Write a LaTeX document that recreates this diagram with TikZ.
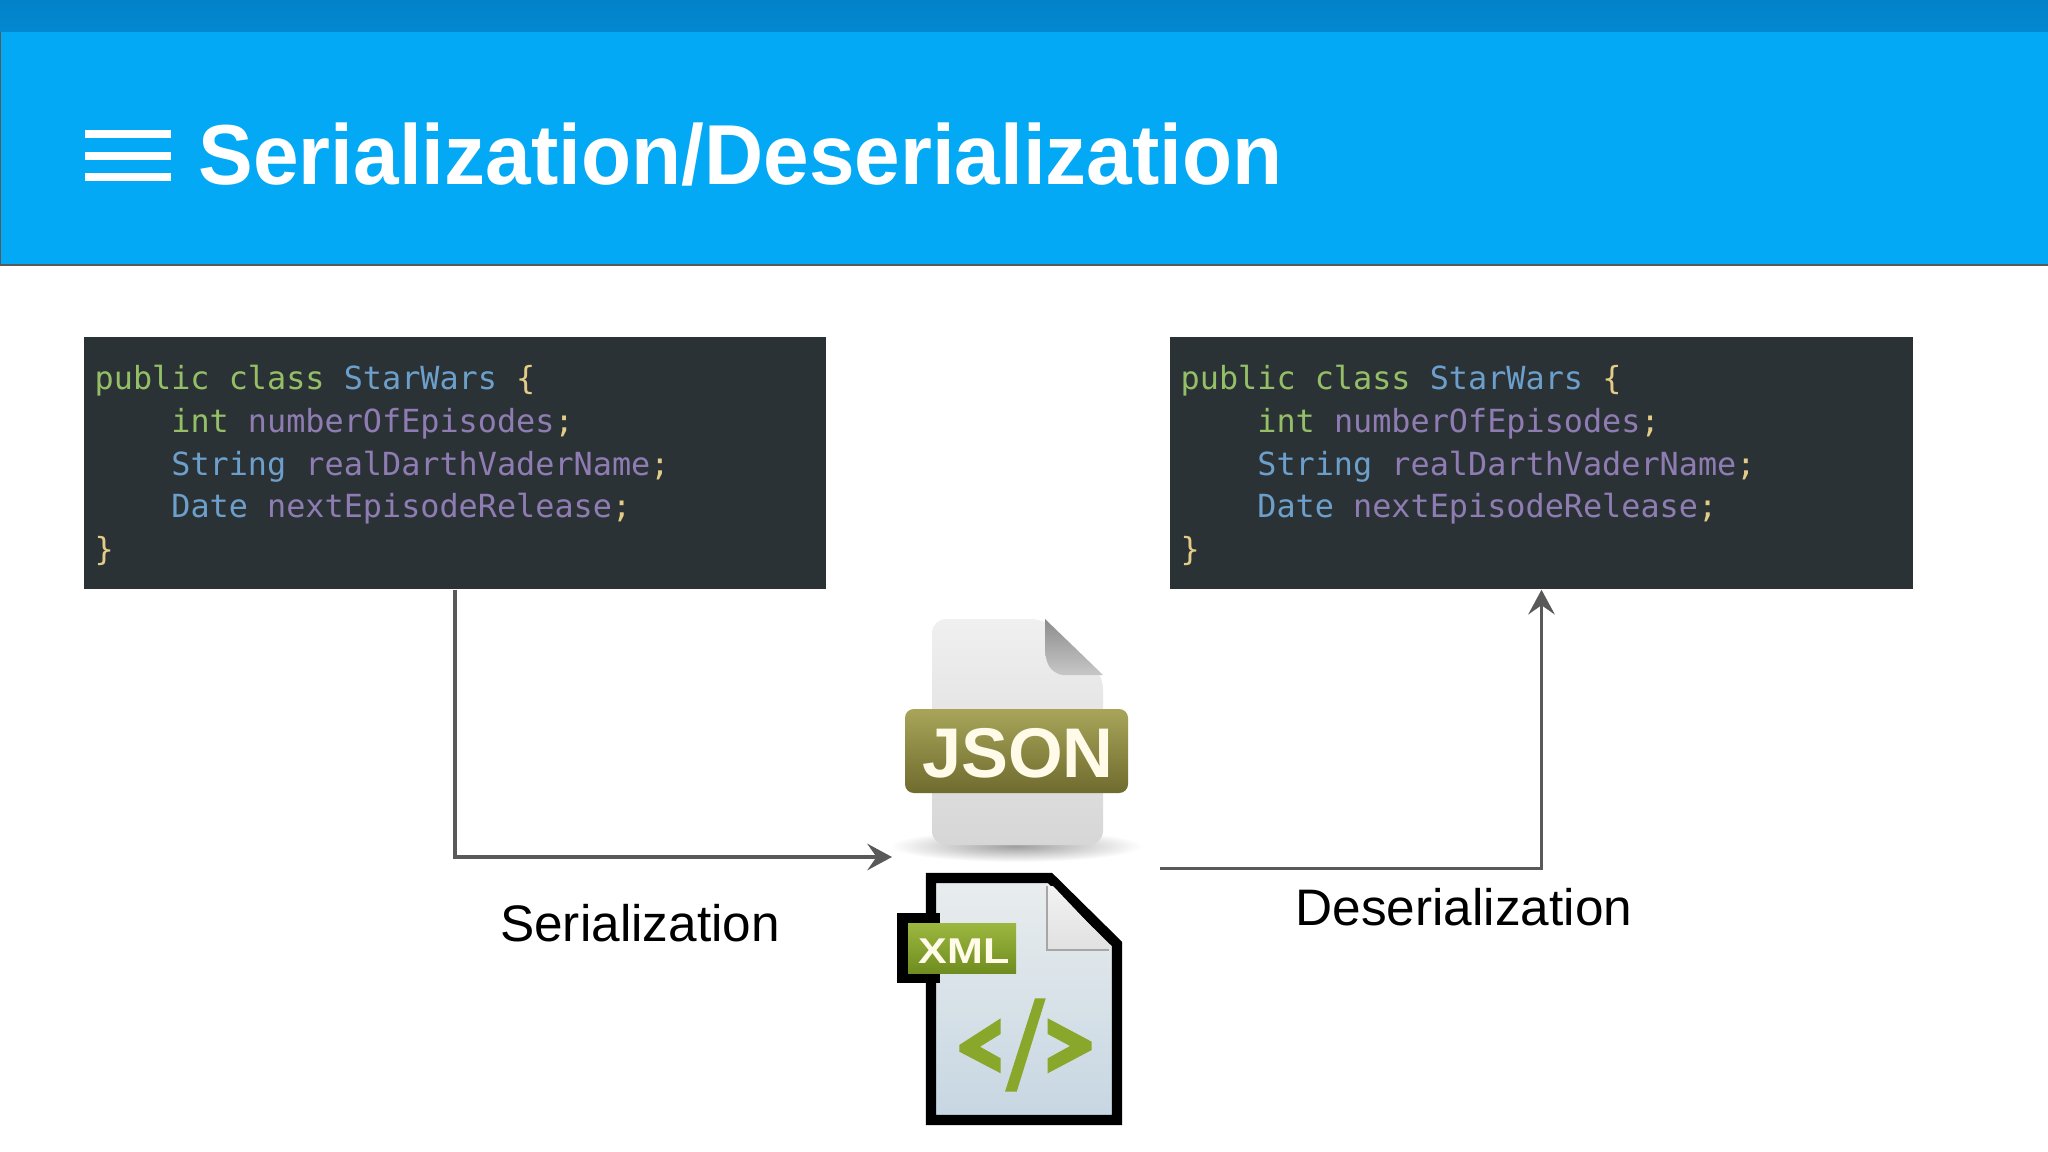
\documentclass[tikz,border=0pt]{standalone}
\usepackage{fontspec}
\setmainfont{Liberation Sans}
\setmonofont{DejaVu Sans Mono}
\newfontfamily\titlefont[FakeStretch=0.963]{Liberation Sans Bold}
\newfontfamily\xmlfont[FakeStretch=1.2]{Liberation Sans Bold}
\usetikzlibrary{arrows.meta}

\definecolor{barblue}{HTML}{0288D1}
\definecolor{headblue}{HTML}{03A9F4}
\definecolor{edgegrey}{HTML}{595959}
\definecolor{codebg}{HTML}{2B3235}
\definecolor{kwgreen}{HTML}{94BF66}
\definecolor{typeblue}{HTML}{6C9FCB}
\definecolor{varpurple}{HTML}{8F7CB3}
\definecolor{punctyellow}{HTML}{E3CC87}
\definecolor{xmlgreen}{HTML}{89A72B}
\definecolor{xmltop}{HTML}{9DB83F}
\definecolor{xmlbottom}{HTML}{6F8C20}
\definecolor{jsontop}{HTML}{A8A55A}
\definecolor{jsonbottom}{HTML}{6E6B2E}
\definecolor{creamword}{HTML}{FFFBE8}
\definecolor{pagetop}{HTML}{E9EDEE}
\definecolor{pagebottom}{HTML}{C6D6E2}

\newcommand{\kw}[1]{\textcolor{kwgreen}{#1}}
\newcommand{\tp}[1]{\textcolor{typeblue}{#1}}
\newcommand{\vr}[1]{\textcolor{varpurple}{#1}}
\newcommand{\pn}[1]{\textcolor{punctyellow}{#1}}
\newcommand{\starwarscode}{\kw{public class} \tp{StarWars} \pn{\{}\\
\phantom{xxxx}\kw{int} \vr{numberOfEpisodes}\pn{;}\\
\phantom{xxxx}\tp{String} \vr{realDarthVaderName}\pn{;}\\
\phantom{xxxx}\tp{Date} \vr{nextEpisodeRelease}\pn{;}\\
\pn{\}}}

\tikzset{
  codebox/.style={fill=codebg,minimum width=742*0.2845pt,minimum height=252*0.2845pt,inner sep=0pt},
  codetext/.style={anchor=north west,inner sep=0pt,align=left,font=\ttfamily\fontsize{9.05}{12.15}\selectfont},
  flowline/.style={draw=edgegrey,line width=1.1pt,-{Stealth[length=7pt,width=7.5pt,inset=2.6pt]}},
  flowlabel/.style={anchor=base,inner sep=0pt,font=\fontsize{14.6}{16}\selectfont},
  iconword/.style={anchor=base,inner sep=0pt,text=creamword},
  menubar/.style={fill=white,minimum width=86*0.2845pt,minimum height=8.5*0.2845pt,inner sep=0pt}
}

\begin{document}
\begin{tikzpicture}[x=0.01cm,y=-0.01cm]
  \useasboundingbox (0,0) rectangle (2048,1152);
  \fill[white] (0,0) rectangle (2048,1152);
  \fill[headblue] (0,32) rectangle (2048,265);
  \shade[top color=barblue!96!black,bottom color=barblue] (0,0) rectangle (2048,32);
  \draw[edgegrey,line width=0.4pt] (0.5,32)--(0.5,265)--(2048,265);
  \node[menubar](menu1) at (128,134){};
  \node[menubar](menu2) at (128,156){};
  \node[menubar](menu3) at (128,177){};
  \node[anchor=base west,inner sep=0pt,text=white,font=\titlefont\fontsize{24.2}{26}\selectfont](title) at (198,185){Serialization/Deserialization};

  \node[codebox](source) at (455,463){};
  \node[codebox](target) at (1541.5,463){};
  \node[codetext](sourcecode) at (94,364.5){\starwarscode};
  \node[codetext](targetcode) at (1180,364.5){\starwarscode};

  \shade[inner color=black!38,outer color=white] (1016,846) ellipse (126 and 16);
  \shade[top color=black!6,middle color=black!5,bottom color=black!16,rounded corners=4pt] (932,619)--(1045,619)--(1103,675)--(1103,845)--(932,845)--cycle;
  \shade[top color=black!45,bottom color=black!22] (1045,619)--(1103,675)--(1062,675)..controls (1050,672) and (1046,664)..(1045,650)--cycle;
  \shade[top color=jsontop,bottom color=jsonbottom,rounded corners=2.5pt] (905,709) rectangle (1128,793);
  \node[iconword,font=\bfseries\fontsize{20}{22}\selectfont](jsonword) at (1018,777){JSON};
  \coordinate(jsonin) at (892,857);
  \coordinate(jsonout) at (1160,868.5);

  \shade[top color=pagetop,bottom color=pagebottom,draw=black,line width=2.9pt,line join=miter] (931,878)--(1050,878)--(1117,944)--(1117,1120)--(931,1120)--cycle;
  \shade[top color=black!5,bottom color=black!12] (1047,886)--(1053,886)--(1109,945)--(1109,950)--(1047,950)--cycle;
  \draw[black!35,line width=0.5pt] (1047,886)--(1047,950)--(1109,950);
  \fill[black] (897,913) rectangle (940,983);
  \shade[top color=xmltop,bottom color=xmlbottom] (908,923) rectangle (1016,973);
  \node[iconword,font=\xmlfont\fontsize{10.2}{11}\selectfont](xmlword) at (964,963){XML};
  \fill[xmlgreen] (1000.7,1018.3)--(1000.7,1034)--(980,1046.7)--(1000.7,1058.3)--(1000.7,1073.3)--(959.3,1051.7)--(959.3,1045)--cycle;
  \fill[xmlgreen] (1035,998.3)--(1045.7,998.3)--(1016.7,1091.7)--(1005,1091.7)--cycle;
  \fill[xmlgreen] (1047.7,1018.3)--(1091.7,1041.7)--(1091.7,1050)--(1047.7,1073.3)--(1047.7,1058.3)--(1070,1046)--(1047.7,1034)--cycle;

  \draw[flowline] (source.south)|-(jsonin);
  \draw[flowline] (jsonout)-|(target.south);
  \node[flowlabel](serial) at (640,941.5){Serialization};
  \node[flowlabel](deserial) at (1464,925.5){Deserialization};
\end{tikzpicture}
\end{document}
